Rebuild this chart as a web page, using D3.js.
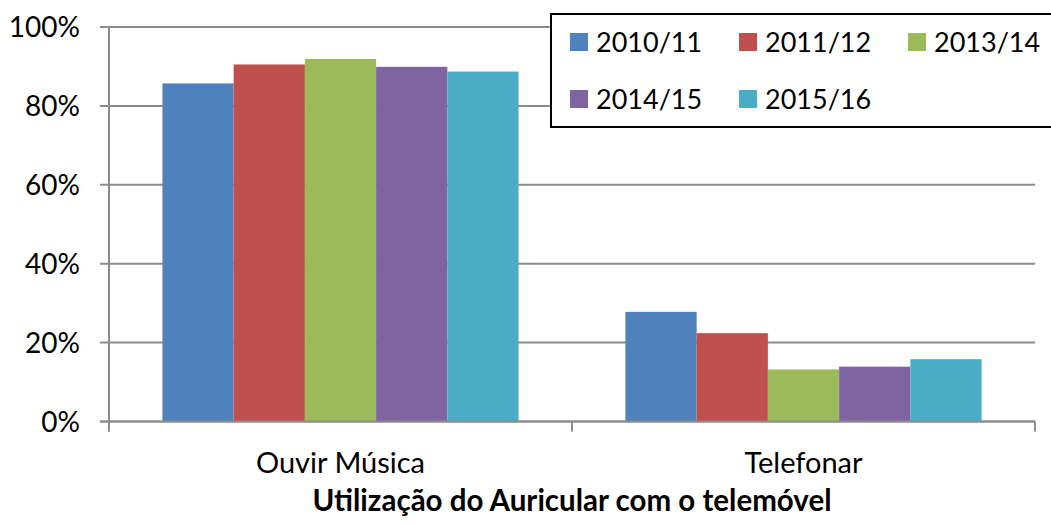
<!DOCTYPE html>
<html>
<head>
<meta charset="utf-8">
<script src="https://cdn.jsdelivr.net/npm/d3@7"></script>
<style>
  body { margin: 0; background: #fff; }
  text { font-family: Lato, "Open Sans", sans-serif; fill: #000; }
</style>
</head>
<body>
<script>
// chart data
var categories = ["Ouvir Música", "Telefonar"];
var seriesNames = ["2010/11", "2011/12", "2013/14", "2014/15", "2015/16"];
var seriesColors = ["#4F81BD", "#C0504D", "#9BBB59", "#8064A2", "#4BACC6"];
var values2010 = [85.7, 27.8];
var values2011 = [90.5, 22.4];
var values2013 = [91.9, 13.2];
var values2014 = [89.9, 13.9];
var values2015 = [88.7, 15.8];
var yTicks = [0, 20, 40, 60, 80, 100];
var chartTitle = "Utilização do Auricular com o telemóvel";

var seriesValues = [values2010, values2011, values2013, values2014, values2015];

var width = 1051, height = 525;
var plotLeft = 109, plotRight = 1035, plotTop = 27, plotBottom = 421.5;

var svg = d3.select("body").append("svg")
	.attr("width", width)
	.attr("height", height);

var x = d3.scaleBand().domain(categories).range([plotLeft, plotRight]).paddingInner(0).paddingOuter(0);
var xInner = d3.scaleBand().domain(seriesNames).range([0, x.bandwidth()]).paddingInner(0).paddingOuter(0.75);
var y = d3.scaleLinear().domain([0, 100]).range([plotBottom, plotTop]);

// gridlines
svg.append("g").selectAll("line")
	.data(yTicks)
	.enter().append("line")
	.attr("x1", plotLeft - 9)
	.attr("x2", plotRight)
	.attr("y1", function (d) { return y(d); })
	.attr("y2", function (d) { return y(d); })
	.attr("stroke", "#8c8c8c")
	.attr("stroke-width", 2);

// y labels
svg.append("g").selectAll("text")
	.data(yTicks)
	.enter().append("text")
	.attr("x", 80)
	.attr("y", function (d) { return y(d) + 10; })
	.attr("text-anchor", "end")
	.style("font-size", "28px")
	.text(function (d) { return d + "%"; });

// bars
var rows = [];
for (var s = 0; s < seriesNames.length; s++) {
	for (var c = 0; c < categories.length; c++) {
		rows.push({ cat: categories[c], series: seriesNames[s], color: seriesColors[s], value: seriesValues[s][c] });
	}
}

svg.append("g").selectAll("rect")
	.data(rows)
	.enter().append("rect")
	.attr("x", function (d) { return x(d.cat) + xInner(d.series); })
	.attr("width", xInner.bandwidth())
	.attr("y", function (d) { return y(d.value); })
	.attr("height", function (d) { return y(0) - y(d.value); })
	.attr("fill", function (d) { return d.color; });

// axes lines
svg.append("line")
	.attr("x1", plotLeft).attr("x2", plotLeft)
	.attr("y1", plotTop).attr("y2", plotBottom + 10)
	.attr("stroke", "#8c8c8c").attr("stroke-width", 2);

svg.append("line")
	.attr("x1", plotLeft - 9).attr("x2", plotRight)
	.attr("y1", plotBottom).attr("y2", plotBottom)
	.attr("stroke", "#8c8c8c").attr("stroke-width", 2);

var catTicks = [plotLeft, plotLeft + x.bandwidth(), plotRight];
svg.append("g").selectAll("line")
	.data(catTicks)
	.enter().append("line")
	.attr("x1", function (d) { return d; })
	.attr("x2", function (d) { return d; })
	.attr("y1", plotBottom)
	.attr("y2", plotBottom + 10)
	.attr("stroke", "#8c8c8c")
	.attr("stroke-width", 2);

// category labels
svg.append("g").selectAll("text")
	.data(categories)
	.enter().append("text")
	.attr("x", function (d) { return x(d) + x.bandwidth() / 2; })
	.attr("y", 473)
	.attr("text-anchor", "middle")
	.style("font-size", "29px")
	.text(function (d) { return d; });

// title
svg.append("text")
	.attr("x", 572)
	.attr("y", 511)
	.attr("text-anchor", "middle")
	.style("font-size", "29.5px")
	.style("font-weight", "bold")
	.text(chartTitle);

// legend
var legend = svg.append("g");
legend.append("rect")
	.attr("x", 551).attr("y", 14)
	.attr("width", 520).attr("height", 113)
	.attr("fill", "#fff")
	.attr("stroke", "#000")
	.attr("stroke-width", 2);

var legendX = [570, 739, 908];
var legendItems = legend.selectAll("g")
	.data(seriesNames)
	.enter().append("g")
	.attr("transform", function (d, i) {
		return "translate(" + legendX[i % 3] + "," + (33 + Math.floor(i / 3) * 57) + ")";
	});

legendItems.append("rect")
	.attr("width", 18).attr("height", 18)
	.attr("fill", function (d, i) { return seriesColors[i]; });

legendItems.append("text")
	.attr("x", 26)
	.attr("y", 19)
	.style("font-size", "27px")
	.text(function (d) { return d; });
</script>
</body>
</html>
